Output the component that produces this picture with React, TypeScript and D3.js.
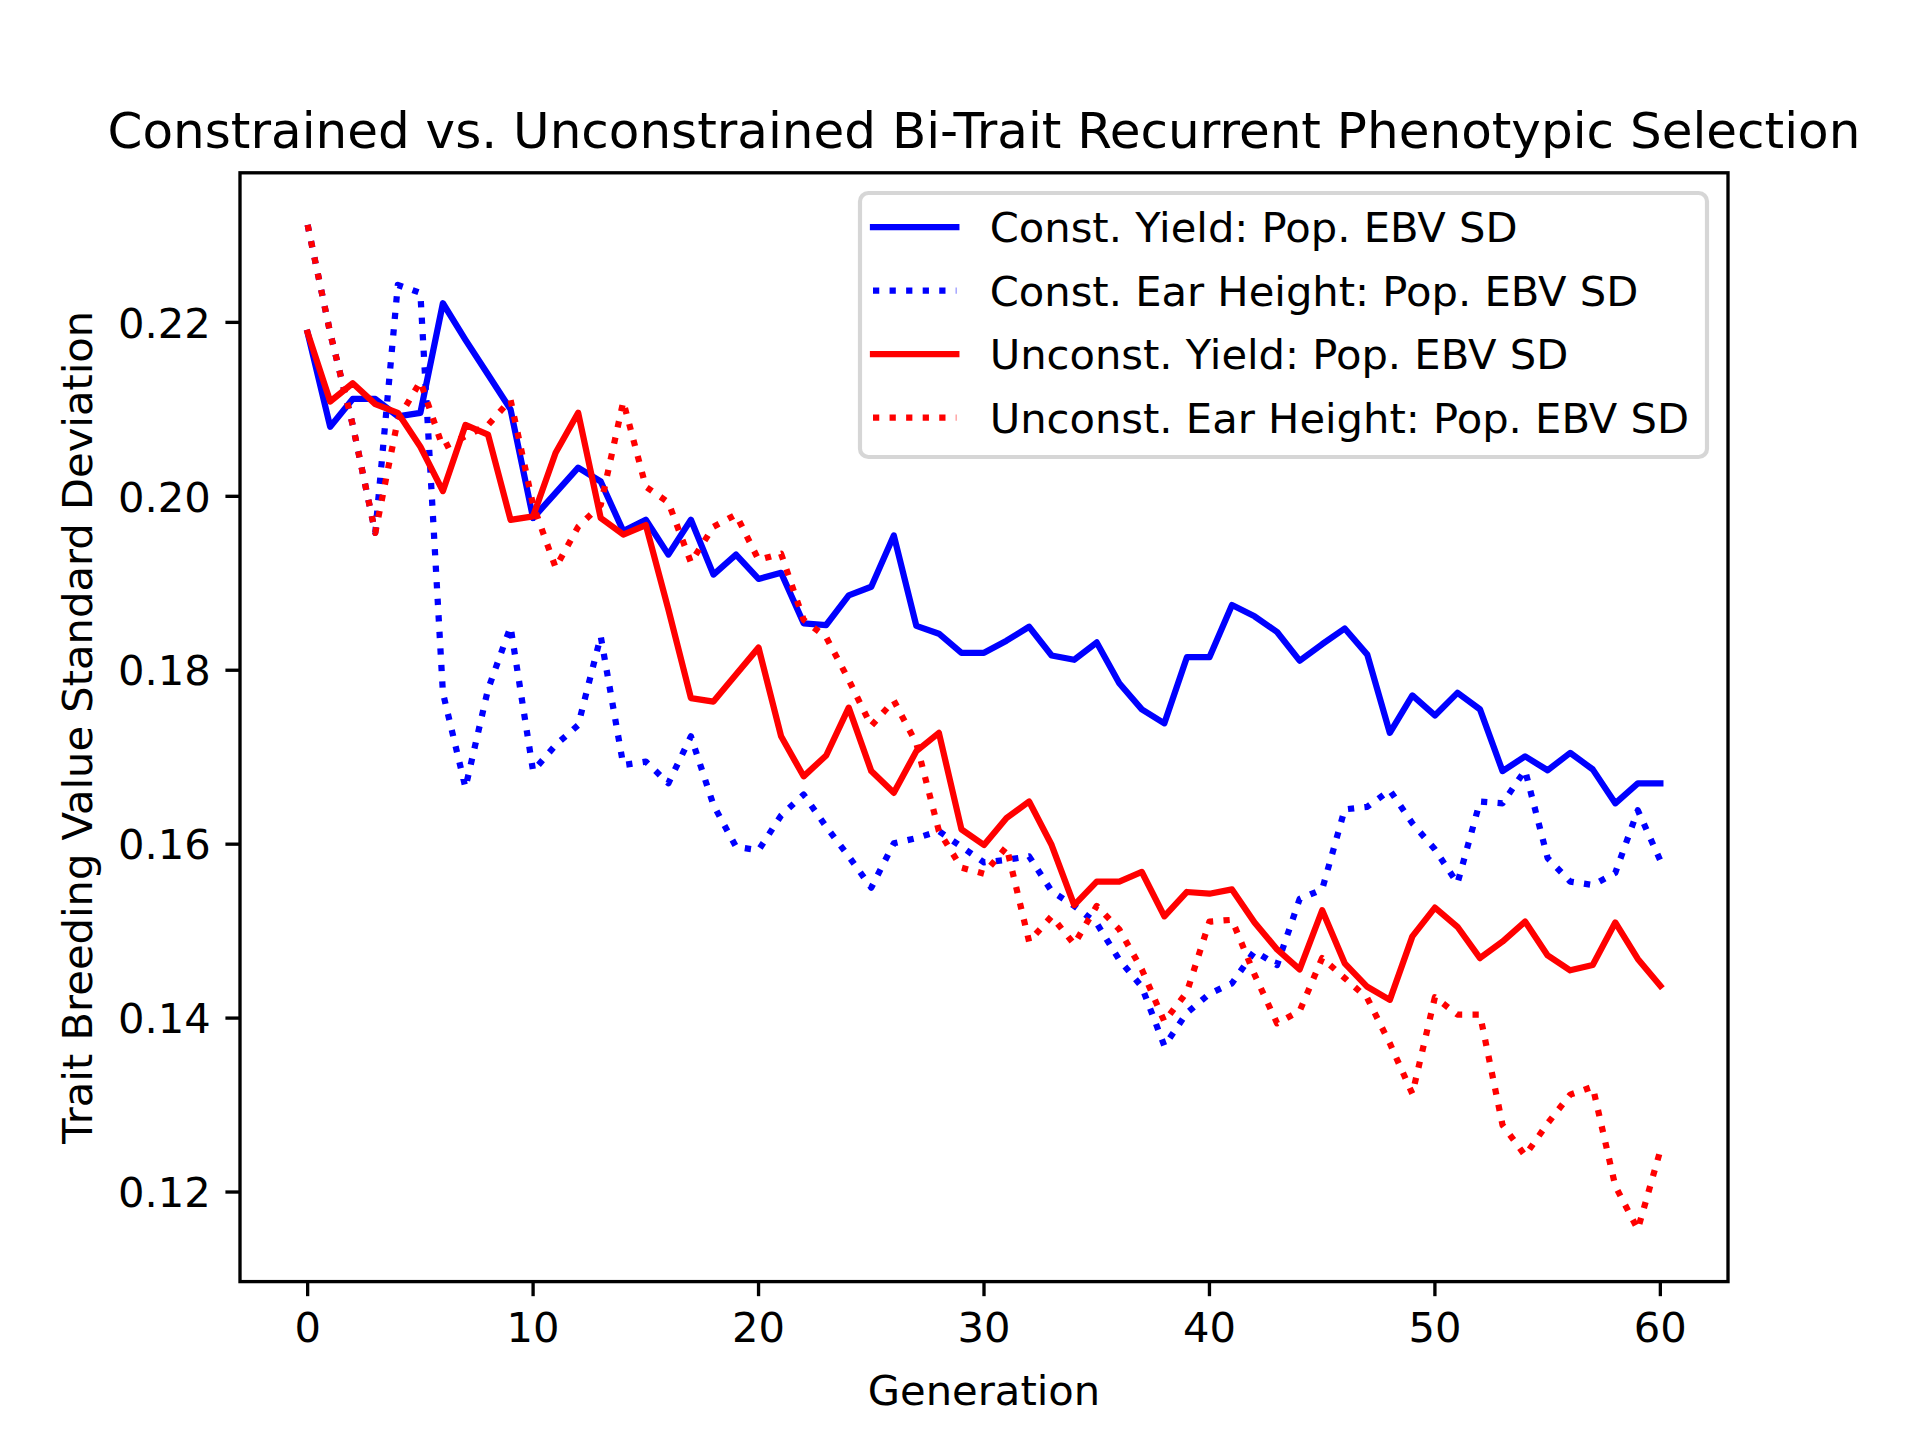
import * as d3 from "d3";

// ── Data ─────────────────────────────────────────────────────────────────────

const generations = d3.range(0, 61);

const constYield = [
  0.2188, 0.208, 0.2112, 0.2112, 0.2092, 0.2096, 0.2222, 0.218, 0.214, 0.21,
  0.1975, 0.2004, 0.2033, 0.2017, 0.196, 0.1973, 0.1933, 0.1973, 0.191, 0.1933,
  0.1905, 0.1912, 0.1854, 0.1852, 0.1886, 0.1896, 0.1955, 0.1851, 0.1842, 0.182,
  0.182, 0.1834, 0.185, 0.1817, 0.1812, 0.1832, 0.1785, 0.1755, 0.1739, 0.1815,
  0.1815, 0.1875, 0.1862, 0.1844, 0.1811, 0.183, 0.1848, 0.1818, 0.1728, 0.1771,
  0.1748, 0.1774, 0.1755, 0.1684, 0.1701, 0.1685, 0.1705, 0.1686, 0.1647, 0.167,
  0.167,
];

const constEar = [
  0.2312, 0.2188, 0.2082, 0.1958, 0.2243, 0.2234, 0.1774, 0.1665, 0.1778, 0.185,
  0.1684, 0.1714, 0.1737, 0.1839, 0.1691, 0.1695, 0.167, 0.1724, 0.1645, 0.1597,
  0.1593, 0.1633, 0.1657, 0.162, 0.1586, 0.155, 0.1601, 0.1607, 0.1615, 0.1597,
  0.1579, 0.1582, 0.1586, 0.1546, 0.1529, 0.1509, 0.1467, 0.1436, 0.1368, 0.1406,
  0.1428, 0.144, 0.1477, 0.1461, 0.1537, 0.1548, 0.164, 0.1643, 0.1662, 0.1624,
  0.1594, 0.1555, 0.1649, 0.1647, 0.1685, 0.1584, 0.1557, 0.1553, 0.1567, 0.1639,
  0.1581,
];

const unconstYield = [
  0.2188, 0.2109, 0.213, 0.2106, 0.2096, 0.2057, 0.2006, 0.2082, 0.2071, 0.1973,
  0.1977, 0.205, 0.2096, 0.1975, 0.1956, 0.1967, 0.187, 0.1768, 0.1764, 0.1795,
  0.1826, 0.1724, 0.1678, 0.1702, 0.1757, 0.1684, 0.1659, 0.1707, 0.1728, 0.1617,
  0.1599, 0.163, 0.1649, 0.1599, 0.153, 0.1557, 0.1557, 0.1568, 0.1517, 0.1545,
  0.1543, 0.1548, 0.151, 0.1479, 0.1456, 0.1524, 0.1463, 0.1436, 0.1421, 0.1494,
  0.1527, 0.1505, 0.1469, 0.1488, 0.1511, 0.1472, 0.1455, 0.1461, 0.151, 0.1468,
  0.1437,
];

const unconstEar = [
  0.2312, 0.2188, 0.2082, 0.1958, 0.2088, 0.2132, 0.2056, 0.2069, 0.2082, 0.2111,
  0.199, 0.1918, 0.1965, 0.199, 0.2109, 0.2011, 0.1993, 0.1924, 0.1965, 0.1979,
  0.1927, 0.1934, 0.1858, 0.1838, 0.1789, 0.1736, 0.1765, 0.1716, 0.1615, 0.1573,
  0.1566, 0.1597, 0.1488, 0.1517, 0.1485, 0.1529, 0.1502, 0.1456, 0.1396, 0.143,
  0.1511, 0.1513, 0.145, 0.1394, 0.1408, 0.1469, 0.1446, 0.1423, 0.1371, 0.1313,
  0.1424, 0.1404, 0.1404, 0.1277, 0.1242, 0.1279, 0.1312, 0.1321, 0.1207, 0.1157,
  0.1248,
];

const seriesLabels = [
  "Const. Yield: Pop. EBV SD",
  "Const. Ear Height: Pop. EBV SD",
  "Unconst. Yield: Pop. EBV SD",
  "Unconst. Ear Height: Pop. EBV SD",
];

const xTicks = [0, 10, 20, 30, 40, 50, 60];
const yTicks = [0.12, 0.14, 0.16, 0.18, 0.2, 0.22];

// ── Layout (matplotlib defaults at 300 dpi) ──────────────────────────────────

const W = 1920;
const H = 1440;
const PX = 300 / 72; // px per point
const left = 240;
const right = 1728;
const top = 172.8;
const bottom = 1281.6;
const FONT = "'DejaVu Sans', sans-serif";
const fs = 10 * PX;
const lw = 1.5 * PX;
const tickLen = 3.5 * PX;
const tickPad = 3.5 * PX;

const x = d3.scaleLinear().domain([-3, 63]).range([left, right]);
const y = d3.scaleLinear().domain([0.1097, 0.2372]).range([bottom, top]);

const line = d3
  .line<number>()
  .x((_d, i) => x(generations[i]))
  .y((d) => y(d));

const series = [
  { values: constYield, color: "#0000ff", dotted: false },
  { values: constEar, color: "#0000ff", dotted: true },
  { values: unconstYield, color: "#ff0000", dotted: false },
  { values: unconstEar, color: "#ff0000", dotted: true },
];

const dotDash = `${1 * lw} ${1.65 * lw}`;

export default function App() {
  const legX = 860;
  const legY = 193;
  const legW = 847;
  const legH = 264;
  const rowY = (i: number) => 227 + i * 63.5;

  return (
    <svg
      width={W}
      height={H}
      viewBox={`0 0 ${W} ${H}`}
      style={{ position: "absolute", left: 0, top: 0, background: "#fff" }}
      fontFamily={FONT}
    >
      <rect width={W} height={H} fill="#fff" />
      <defs>
        <clipPath id="plot-area">
          <rect x={left} y={top} width={right - left} height={bottom - top} />
        </clipPath>
      </defs>

      {/* Title */}
      <text x={(left + right) / 2} y={top - 6 * PX} fontSize={12 * PX} textAnchor="middle">
        Constrained vs. Unconstrained Bi-Trait Recurrent Phenotypic Selection
      </text>

      {/* Lines */}
      <g clipPath="url(#plot-area)">
        {series.map((s, i) => (
          <path
            key={i}
            d={line(s.values) ?? ""}
            fill="none"
            stroke={s.color}
            strokeWidth={lw}
            strokeDasharray={s.dotted ? dotDash : undefined}
            strokeLinecap={s.dotted ? "butt" : "square"}
            strokeLinejoin="round"
          />
        ))}
      </g>

      {/* Spines */}
      <rect
        x={left}
        y={top}
        width={right - left}
        height={bottom - top}
        fill="none"
        stroke="#000"
        strokeWidth={0.8 * PX}
      />

      {/* X axis */}
      {xTicks.map((t) => (
        <g key={t}>
          <line x1={x(t)} x2={x(t)} y1={bottom} y2={bottom + tickLen} stroke="#000" strokeWidth={0.8 * PX} />
          <text x={x(t)} y={bottom + tickLen + tickPad + 0.76 * fs} fontSize={fs} textAnchor="middle">
            {t}
          </text>
        </g>
      ))}
      <text x={(left + right) / 2} y={1405} fontSize={fs} textAnchor="middle">
        Generation
      </text>

      {/* Y axis */}
      {yTicks.map((t) => (
        <g key={t}>
          <line x1={left - tickLen} x2={left} y1={y(t)} y2={y(t)} stroke="#000" strokeWidth={0.8 * PX} />
          <text x={left - tickLen - tickPad} y={y(t) + 0.365 * fs} fontSize={fs} textAnchor="end">
            {t.toFixed(2)}
          </text>
        </g>
      ))}
      <text
        transform={`translate(92, ${(top + bottom) / 2}) rotate(-90)`}
        fontSize={fs}
        textAnchor="middle"
      >
        Trait Breeding Value Standard Deviation
      </text>

      {/* Legend */}
      <rect
        x={legX}
        y={legY}
        width={legW}
        height={legH}
        rx={0.2 * fs}
        fill="#fff"
        fillOpacity={0.8}
        stroke="#cccccc"
        strokeOpacity={0.8}
        strokeWidth={1 * PX}
      />
      {series.map((s, i) => (
        <g key={i}>
          <line
            x1={873}
            x2={873 + 2 * fs}
            y1={rowY(i)}
            y2={rowY(i)}
            stroke={s.color}
            strokeWidth={lw}
            strokeDasharray={s.dotted ? dotDash : undefined}
            strokeLinecap={s.dotted ? "butt" : "square"}
          />
          <text x={873 + 2.8 * fs} y={rowY(i) + 0.365 * fs} fontSize={fs}>
            {seriesLabels[i]}
          </text>
        </g>
      ))}
    </svg>
  );
}
